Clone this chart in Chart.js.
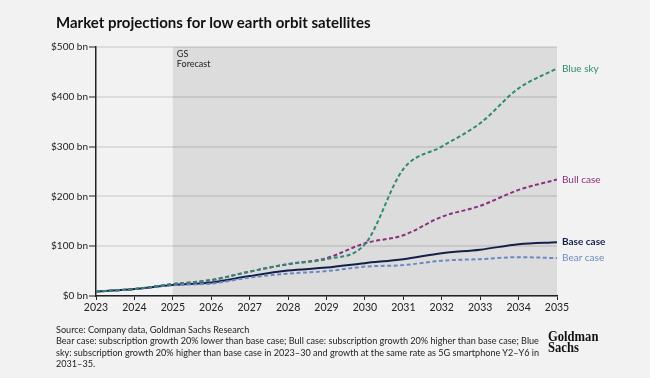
<!DOCTYPE html>
<html>
<head>
<meta charset="utf-8">
<script src="https://cdn.jsdelivr.net/npm/chart.js@4/dist/chart.umd.min.js"></script>
<style>
  html, body { margin: 0; padding: 0; background: #f2f2f2; }
  #wrap { position: relative; width: 650px; height: 378px; overflow: hidden; background: #f2f2f2; }
  canvas { position: absolute; left: 0; top: 0; }
  #title { position: absolute; left: 56px; top: 13px; font-family: Lato, sans-serif; font-weight: bold; font-size: 15px; color: #111; white-space: nowrap; }
  #foot { position: absolute; left: 56px; top: 323.5px; font-family: Lato, sans-serif; font-size: 10px; line-height: 11.5px; color: #222; white-space: nowrap; transform: scaleX(0.91); transform-origin: left top; }
  #logo { position: absolute; left: 548px; top: 331px; font-family: 'Liberation Serif', serif; font-weight: bold; font-size: 14px; line-height: 11px; color: #111; transform: scaleX(0.9); transform-origin: left top; white-space: nowrap; }
</style>
</head>
<body>
<div id="wrap">
  <canvas id="c" width="650" height="378"></canvas>
  <div id="title">Market projections for low earth orbit satellites</div>
  <div id="foot">Source: Company data, Goldman Sachs Research<br>Bear case: subscription growth 20% lower than base case; Bull case: subscription growth 20% higher than base case; Blue<br>sky: subscription growth 20% higher than base case in 2023–30 and growth at the same rate as 5G smartphone Y2–Y6 in<br>2031–35.</div>
  <div id="logo">Goldman<br>Sachs</div>
</div>
<script>
const years = [2023, 2024, 2025, 2026, 2027, 2028, 2029, 2030, 2031, 2032, 2033, 2034, 2035];
const blueSky  = [9, 14, 24, 32, 49, 64, 74, 104, 255, 300, 347, 417, 457];
const bullCase = [9, 14, 24, 32, 49, 64, 76, 106, 122, 159, 181, 213, 234];
const baseCase = [9, 14, 22, 27, 40, 51, 57, 66, 74, 86, 93, 104, 108];
const bearCase = [9, 14, 22, 25, 37, 45, 50, 59, 62, 71, 74, 78, 76];
const yTicks = [0, 100, 200, 300, 400, 500];
const forecastStart = 2025;
const forecastLabel = ['GS', 'Forecast'];

const FONT = "Lato, sans-serif";
Chart.defaults.font.family = FONT;
Chart.defaults.color = '#222';

const pts = arr => arr.map((v, i) => ({ x: years[i], y: v }));

const series = [
  { label: 'Blue sky', data: blueSky, color: '#2f8a73', dash: [4, 2.5], bold: false },
  { label: 'Bull case', data: bullCase, color: '#8a2f7c', dash: [4, 2.5], bold: false },
  { label: 'Bear case', data: bearCase, color: '#6a89c4', dash: [4, 2.5], bold: false },
  { label: 'Base case', data: baseCase, color: '#13214a', dash: [], bold: true },
];

const shadePlugin = {
  id: 'shade',
  beforeDraw(chart) {
    const { ctx, chartArea, scales } = chart;
    const x0 = scales.x.getPixelForValue(forecastStart);
    const x1 = scales.x.getPixelForValue(years[years.length - 1]);
    ctx.save();
    ctx.fillStyle = '#dcdcdc';
    ctx.fillRect(x0, chartArea.top, x1 - x0, chartArea.bottom - chartArea.top);
    ctx.fillStyle = '#222';
    ctx.font = '9px ' + FONT;
    ctx.textBaseline = 'middle';
    ctx.textAlign = 'left';
    ctx.fillText(forecastLabel[0], x0 + 4, chartArea.top + 7);
    ctx.fillText(forecastLabel[1], x0 + 4, chartArea.top + 17);
    ctx.restore();
  },
  afterDatasetsDraw(chart) {
    const { ctx, scales } = chart;
    ctx.save();
    ctx.textBaseline = 'middle';
    ctx.textAlign = 'left';
    series.forEach(s => {
      const v = s.data[s.data.length - 1];
      const x = scales.x.getPixelForValue(years[years.length - 1]) + 5;
      const y = scales.y.getPixelForValue(v);
      ctx.fillStyle = s.color;
      ctx.font = (s.bold ? 'bold ' : '') + '10px ' + FONT;
      ctx.fillText(s.label, x, y);
    });
    ctx.restore();
  }
};

new Chart(document.getElementById('c'), {
  type: 'line',
  data: {
    datasets: series.map(s => ({
      label: s.label,
      data: pts(s.data),
      borderColor: s.color,
      backgroundColor: s.color,
      borderWidth: 2,
      borderDash: s.dash,
      pointRadius: 0,
      cubicInterpolationMode: 'monotone',
      fill: false,
    }))
  },
  options: {
    responsive: false,
    animation: false,
    layout: { padding: { top: 47, right: 93, bottom: 0, left: 0 } },
    plugins: { legend: { display: false }, tooltip: { enabled: false }, title: { display: false } },
    scales: {
      x: {
        type: 'linear',
        min: years[0],
        max: years[years.length - 1],
        afterBuildTicks: sc => { sc.ticks = years.map(v => ({ value: v })); },
        afterFit: sc => { sc.height = 82; },
        ticks: { callback: v => String(v), font: { size: 10.5 }, color: '#222', padding: 1, maxRotation: 0, autoSkip: false },
        grid: { drawOnChartArea: false, tickLength: 4, tickColor: '#222', tickWidth: 1 },
        border: { color: '#222', width: 1.5 },
      },
      y: {
        min: 0,
        max: 500,
        afterBuildTicks: sc => { sc.ticks = yTicks.map(v => ({ value: v })); },
        afterFit: sc => { sc.width = 96; },
        ticks: { callback: v => '$' + v + ' bn', font: { size: 10 }, color: '#222', padding: 1 },
        grid: { color: 'rgba(0,0,0,0.09)', lineWidth: 2, tickLength: 7, tickColor: '#222', tickWidth: 1 },
        border: { color: '#222', width: 1.5 },
      }
    }
  },
  plugins: [shadePlugin]
});
</script>
</body>
</html>
